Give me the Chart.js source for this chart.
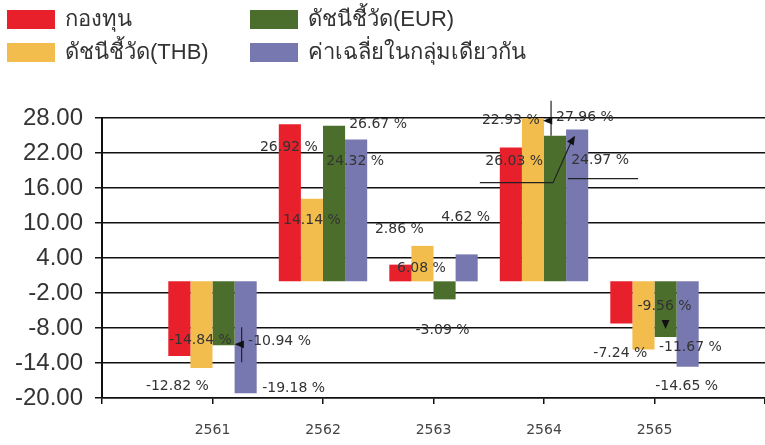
<!DOCTYPE html>
<html>
<head>
    <title>Fund performance</title>
    <script src="https://cdn.jsdelivr.net/npm/chart.js"></script>
    <style>
        body { margin: 0; background: #fff; }
        #wrap { position: relative; width: 765px; height: 445px; }
        #legend { position: absolute; left: 0; top: 0; font-family: "Liberation Sans", "DejaVu Sans", sans-serif; font-size: 22px; color: #333; }
        .item { position: absolute; white-space: nowrap; }
        .item span.box { position: absolute; left: 0; width: 48px; height: 19px; }
        .item span.txt { position: absolute; left: 58px; top: -4px; line-height: 26px; }
    </style>
</head>
<body>
    <div id="wrap">
        <canvas id="chart"></canvas>
        <div id="legend"></div>
    </div>

    <script>
// chart data
const years = ['2561', '2562', '2563', '2564', '2565'];
const seriesNames = ['กองทุน', 'ดัชนีชี้วัด(THB)', 'ดัชนีชี้วัด(EUR)', 'ค่าเฉลี่ยในกลุ่มเดียวกัน'];
const fund = [-12.82, 26.92, 2.86, 22.93, -7.24];
const benchTHB = [-14.84, 14.14, 6.08, 27.96, -11.67];
const benchEUR = [-10.94, 26.67, -3.09, 24.97, -9.56];
const peerAvg = [-19.18, 24.32, 4.62, 26.03, -14.65];
const yTicks = [-20, -14, -8, -2, 4, 10, 16, 22, 28];

const colors = ['#e8202c', '#f2bd4c', '#4b6e2d', '#7878b0'];

// where each value label sits, relative to the end of its bar (text centre)
const labelOffsets = [
    [[-2, 30], [-1, 23], [-1, -35], [0, -27], [-1, 30]],
    [[-1, -28], [0, 22], [-1, 22], [52, -1], [47, -2]],
    [[56, -4], [44, -1], [-2, 31], [45, 25], [-1, -31]],
    [[48, -5], [-1, 22], [-1, -37], [-63, 32], [-1, 20]]
];

const allSeries = [fund, benchTHB, benchEUR, peerAvg];

// pad with an empty slot on each side so the groups sit on the inner ticks
const labels = [''].concat(years, ['']);
const pad = arr => [null].concat(arr, [null]);

// legend, column by column
const legend = document.getElementById('legend');
const legendPos = [[7, 10], [7, 43], [250, 10], [250, 43]];
const legendOrder = [0, 1, 2, 3];
legendOrder.forEach((d, i) => {
    const item = document.createElement('div');
    item.className = 'item';
    item.style.left = legendPos[i][0] + 'px';
    item.style.top = legendPos[i][1] + 'px';
    item.innerHTML = '<span class="box" style="background:' + colors[d] + '"></span><span class="txt">' + seriesNames[d] + '</span>';
    legend.appendChild(item);
});

// value labels and the little leader arrows
const valueLabels = {
    id: 'valueLabels',
    afterDatasetsDraw(chart) {
        const ctx = chart.ctx;
        ctx.save();
        ctx.font = '14px "DejaVu Sans"';
        ctx.fillStyle = '#333';
        ctx.textAlign = 'center';
        ctx.textBaseline = 'middle';
        allSeries.forEach((vals, d) => {
            const meta = chart.getDatasetMeta(d);
            vals.forEach((v, i) => {
                const bar = meta.data[i + 1];
                const off = labelOffsets[d][i];
                ctx.fillText(v.toFixed(2) + ' %', bar.x + off[0], bar.y + off[1]);
            });
        });

        function arrow(x1, y1, x2, y2) {
            const a = Math.atan2(y2 - y1, x2 - x1);
            ctx.beginPath();
            ctx.moveTo(x2, y2);
            ctx.lineTo(x2 - 10 * Math.cos(a - 0.4), y2 - 10 * Math.sin(a - 0.4));
            ctx.lineTo(x2 - 10 * Math.cos(a + 0.4), y2 - 10 * Math.sin(a + 0.4));
            ctx.closePath();
            ctx.fill();
        }
        ctx.strokeStyle = '#222';
        ctx.fillStyle = '#111';
        ctx.lineWidth = 1.2;

        // 2561
        const b1 = chart.getDatasetMeta(3).data[1];
        ctx.beginPath();
        ctx.moveTo(b1.x - 4, b1.base + 46);
        ctx.lineTo(b1.x - 4, b1.base + 81);
        ctx.stroke();
        arrow(b1.x + 2, b1.base + 63, b1.x - 11, b1.base + 63);

        // 2564
        const g4 = chart.getDatasetMeta(2).data[4];
        const r4 = chart.getDatasetMeta(0).data[4];
        ctx.beginPath();
        ctx.moveTo(g4.x - 4, g4.y - 35);
        ctx.lineTo(g4.x - 4, g4.y);
        ctx.moveTo(r4.x - 31, g4.y + 47);
        ctx.lineTo(g4.x - 2, g4.y + 47);
        ctx.lineTo(g4.x + 18, g4.y + 2);
        ctx.moveTo(g4.x + 13, g4.y + 43);
        ctx.lineTo(g4.x + 83, g4.y + 43);
        ctx.stroke();
        arrow(g4.x + 8, g4.y + 20, g4.x + 20, g4.y);
        arrow(g4.x + 2, g4.y - 15, g4.x - 12, g4.y - 15);

        // 2565
        const g5 = chart.getDatasetMeta(2).data[5];
        arrow(g5.x, g5.y - 14, g5.x, g5.y - 8);
        ctx.restore();
    }
};

new Chart(document.getElementById('chart').getContext('2d'), {
    type: 'bar',
    data: {
        labels: labels,
        datasets: allSeries.map((vals, d) => ({
            label: seriesNames[d],
            data: pad(vals),
            backgroundColor: colors[d],
            borderWidth: 0
        }))
    },
    options: {
        responsive: true,
        maintainAspectRatio: false,
        animation: false,
        categoryPercentage: 0.8,
        barPercentage: 1.0,
        layout: { padding: { top: 118, right: 0, bottom: 0, left: 0 } },
        plugins: {
            legend: { display: false },
            tooltip: { enabled: false }
        },
        scales: {
            x: {
                offset: false,
                grid: { offset: false, drawOnChartArea: false, drawTicks: true, tickLength: 6, color: '#111', lineWidth: 1.5 },
                border: { display: true, color: '#111', width: 1.5 },
                ticks: { color: '#444', font: { family: 'DejaVu Sans', size: 14 }, padding: 18, maxRotation: 0, autoSkip: false },
                afterFit: s => { s.height = 47; s.paddingRight = 0; s.paddingLeft = 0; }
            },
            y: {
                min: -20,
                max: 28,
                afterBuildTicks: s => { s.ticks = yTicks.map(v => ({ value: v })); },
                grid: { color: '#111', lineWidth: 1.5, tickLength: 7 },
                border: { display: true, color: '#111', width: 2 },
                ticks: {
                    color: '#333',
                    font: { family: 'Liberation Sans', size: 24 },
                    padding: 12,
                    callback: v => v.toFixed(2)
                },
                afterFit: s => { s.width = 102; }
            }
        }
    },
    plugins: [valueLabels]
});
    </script>
</body>
</html>
